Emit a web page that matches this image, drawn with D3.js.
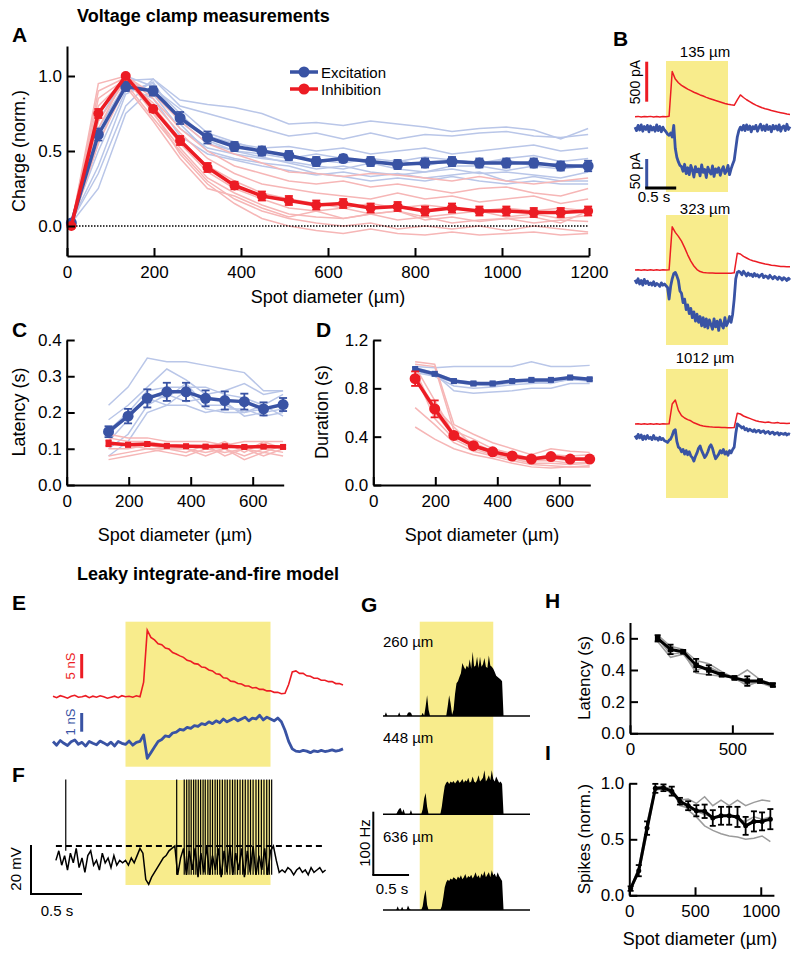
<!DOCTYPE html>
<html><head><meta charset="utf-8">
<script src="https://cdn.jsdelivr.net/npm/d3@7"></script>
<style>body{margin:0;background:#fff}svg{display:block}</style>
</head><body>
<svg id="fig" width="800" height="954"></svg>
<script>
// ===================== DATA =====================
// Panel A: charge vs spot diameter
const diamA = [10,72,135,198,260,323,385,448,510,573,635,698,760,823,885,948,1010,1073,1135,1198];
const excA    = [0.02,0.61,0.93,0.90,0.72,0.59,0.53,0.50,0.47,0.43,0.45,0.43,0.41,0.42,0.43,0.42,0.42,0.42,0.40,0.40];
const excAErr = [0.02,0.04,0.03,0.03,0.04,0.04,0.03,0.03,0.03,0.03,0.025,0.03,0.03,0.03,0.03,0.03,0.03,0.03,0.03,0.035];
const inhA    = [0.00,0.75,1.00,0.78,0.57,0.39,0.27,0.20,0.17,0.14,0.15,0.12,0.13,0.10,0.12,0.10,0.10,0.09,0.09,0.10];
const inhAErr = [0.01,0.03,0.01,0.02,0.03,0.03,0.025,0.03,0.03,0.03,0.03,0.03,0.03,0.03,0.03,0.03,0.03,0.03,0.03,0.03];
const excACells = [
 [0.03,0.35,0.80,0.98,0.84,0.81,0.79,0.75,0.68,0.69,0.67,0.70,0.68,0.66,0.63,0.65,0.66,0.64,0.58,0.65],
 [0.02,0.55,0.97,0.98,0.80,0.75,0.70,0.65,0.60,0.62,0.58,0.62,0.58,0.61,0.60,0.62,0.63,0.60,0.59,0.61],
 [0.01,0.65,0.95,0.90,0.72,0.60,0.55,0.52,0.53,0.50,0.52,0.48,0.50,0.52,0.48,0.50,0.52,0.54,0.50,0.52],
 [0.03,0.70,1.00,0.93,0.75,0.57,0.50,0.48,0.45,0.48,0.45,0.42,0.44,0.40,0.44,0.42,0.45,0.47,0.43,0.45],
 [0.02,0.75,0.98,0.88,0.65,0.52,0.48,0.45,0.43,0.40,0.38,0.42,0.38,0.36,0.40,0.40,0.37,0.40,0.38,0.40],
 [0.03,0.50,0.90,0.95,0.70,0.55,0.50,0.46,0.42,0.38,0.40,0.36,0.34,0.36,0.38,0.35,0.36,0.34,0.32,0.36],
 [0.02,0.60,0.93,0.85,0.60,0.48,0.44,0.40,0.37,0.34,0.36,0.33,0.35,0.32,0.34,0.36,0.30,0.33,0.30,0.30],
 [0.03,0.40,0.88,0.96,0.68,0.50,0.45,0.42,0.40,0.35,0.33,0.30,0.32,0.30,0.33,0.30,0.28,0.30,0.28,0.28],
 [0.02,0.25,0.75,0.92,0.78,0.62,0.56,0.50,0.46,0.44,0.42,0.45,0.43,0.46,0.44,0.42,0.44,0.40,0.42,0.38]
];
const inhACells = [
 [0.0,0.95,1.00,0.88,0.70,0.55,0.48,0.42,0.36,0.35,0.33,0.35,0.34,0.32,0.30,0.33,0.30,0.28,0.30,0.32],
 [0.0,0.90,0.99,0.85,0.65,0.50,0.40,0.35,0.30,0.28,0.30,0.26,0.28,0.25,0.22,0.25,0.26,0.22,0.20,0.25],
 [0.0,0.80,0.98,0.82,0.62,0.45,0.35,0.28,0.25,0.22,0.20,0.18,0.22,0.18,0.20,0.16,0.18,0.20,0.15,0.18],
 [0.0,0.75,1.00,0.80,0.58,0.40,0.30,0.22,0.18,0.15,0.12,0.15,0.12,0.14,0.12,0.10,0.12,0.10,0.12,0.10],
 [0.0,0.70,0.97,0.78,0.55,0.36,0.25,0.18,0.12,0.10,0.12,0.08,0.10,0.06,0.08,0.10,0.06,0.08,0.05,0.07],
 [0.0,0.65,1.00,0.75,0.52,0.32,0.22,0.14,0.08,0.06,0.05,0.08,0.04,0.06,0.02,0.04,0.05,0.02,0.04,0.03],
 [0.0,0.60,0.95,0.72,0.50,0.30,0.18,0.10,0.05,0.02,0.00,0.02,-0.02,0.00,-0.02,0.00,-0.03,0.00,-0.02,-0.04],
 [0.0,0.85,0.98,0.76,0.48,0.28,0.15,0.05,0.00,-0.03,-0.05,-0.02,-0.05,-0.06,-0.04,-0.06,-0.05,-0.04,-0.06,-0.05],
 [0.0,0.55,0.93,0.70,0.45,0.25,0.20,0.12,0.06,0.10,0.05,0.08,0.10,0.04,0.06,0.03,0.05,0.06,0.02,0.10]
];
const ticksA_x = [0,200,400,600,800,1000,1200];
const ticksA_y = [0,0.5,1.0];

// Panels C, D: latency and duration
const diamCD = [135,198,260,323,385,448,510,573,635,698];
const excLat    = [0.147,0.19,0.239,0.257,0.257,0.239,0.233,0.23,0.21,0.222];
const excLatErr = [0.015,0.02,0.025,0.025,0.025,0.022,0.025,0.022,0.018,0.018];
const inhLat    = [0.115,0.111,0.113,0.108,0.107,0.106,0.107,0.105,0.106,0.105];
const inhLatErr = [0.008,0.005,0.005,0.004,0.004,0.004,0.004,0.004,0.004,0.004];
const excLatCells = [
 [0.22,0.27,0.35,0.34,0.34,0.33,0.32,0.31,0.26,0.26],
 [0.18,0.22,0.27,0.32,0.29,0.25,0.26,0.28,0.25,0.26],
 [0.15,0.20,0.26,0.27,0.27,0.27,0.25,0.24,0.22,0.25],
 [0.12,0.18,0.25,0.24,0.28,0.22,0.22,0.20,0.21,0.22],
 [0.10,0.14,0.22,0.25,0.23,0.24,0.23,0.19,0.20,0.21],
 [0.08,0.12,0.20,0.22,0.22,0.20,0.21,0.21,0.19,0.20],
 [0.14,0.19,0.24,0.22,0.26,0.21,0.20,0.20,0.22,0.19]
];
const inhLatCells = [
 [0.14,0.13,0.13,0.12,0.12,0.12,0.11,0.12,0.12,0.12],
 [0.13,0.12,0.12,0.11,0.11,0.10,0.12,0.09,0.12,0.10],
 [0.12,0.11,0.10,0.10,0.09,0.11,0.08,0.10,0.09,0.11],
 [0.10,0.10,0.11,0.10,0.10,0.09,0.10,0.08,0.10,0.09],
 [0.08,0.09,0.10,0.09,0.08,0.10,0.09,0.10,0.08,0.10],
 [0.07,0.08,0.09,0.10,0.10,0.08,0.10,0.07,0.09,0.08]
];
const excDur    = [0.96,0.92,0.86,0.84,0.84,0.86,0.87,0.87,0.89,0.875];
const excDurErr = [0.012,0.012,0.015,0.015,0.015,0.012,0.012,0.012,0.01,0.01];
const inhDur    = [0.88,0.63,0.41,0.325,0.275,0.24,0.215,0.235,0.215,0.215];
const inhDurErr = [0.06,0.07,0.02,0.02,0.02,0.015,0.015,0.015,0.015,0.015];
const excDurCells = [
 [0.98,0.97,0.98,0.98,0.98,0.98,1.02,0.98,0.98,0.99],
 [0.96,0.92,0.78,0.76,0.77,0.78,0.80,0.80,0.84,0.84],
 [0.95,0.90,0.85,0.83,0.82,0.85,0.86,0.86,0.88,0.87],
 [0.93,0.90,0.82,0.80,0.81,0.83,0.84,0.85,0.87,0.86],
 [0.97,0.93,0.87,0.85,0.84,0.86,0.85,0.84,0.88,0.86]
];
const inhDurCells = [
 [1.02,1.00,0.50,0.42,0.35,0.30,0.25,0.30,0.28,0.27],
 [1.00,0.98,0.45,0.38,0.30,0.26,0.22,0.25,0.24,0.25],
 [0.98,0.70,0.42,0.35,0.28,0.24,0.20,0.22,0.20,0.22],
 [0.95,0.60,0.40,0.32,0.26,0.22,0.20,0.20,0.18,0.19],
 [0.92,0.55,0.38,0.30,0.25,0.22,0.18,0.18,0.17,0.18],
 [0.64,0.50,0.35,0.28,0.24,0.20,0.17,0.16,0.15,0.16],
 [0.48,0.38,0.30,0.25,0.22,0.18,0.15,0.14,0.15,0.15],
 [0.90,0.65,0.48,0.32,0.27,0.24,0.20,0.22,0.21,0.20]
];
const ticksCD_x = [0,200,400,600];
const ticksC_y = [0,0.1,0.2,0.3,0.4];
const ticksD_y = [0,0.4,0.8,1.2];

// Panel H: model latency
const modelLat    = [0.60,0.53,0.515,0.43,0.40,0.37,0.35,0.33,0.33,0.305];
const modelLatErr = [0.02,0.03,0.01,0.04,0.03,0.01,0.01,0.03,0.01,0.01];
const modelLatCells = [
 [0.62,0.55,0.53,0.46,0.44,0.39,0.35,0.40,0.34,0.31],
 [0.60,0.50,0.51,0.38,0.37,0.36,0.35,0.30,0.33,0.30],
 [0.58,0.48,0.50,0.40,0.42,0.38,0.34,0.32,0.32,0.29]
];
const ticksH_x = [0,500];
const ticksH_y = [0,0.2,0.4,0.6];

// Panel I: model spikes
const diamI = [10,72,135,198,260,323,385,448,510,573,635,698,760,823,885,948,1010,1073];
const modelSpk    = [0.06,0.22,0.60,0.955,0.96,0.93,0.84,0.80,0.755,0.75,0.69,0.71,0.71,0.70,0.62,0.66,0.66,0.68];
const modelSpkErr = [0.02,0.05,0.06,0.04,0.03,0.04,0.03,0.04,0.05,0.06,0.07,0.08,0.08,0.09,0.08,0.09,0.08,0.09];
const modelSpkCells = [
 [0.05,0.20,0.55,0.95,0.97,0.90,0.85,0.86,0.82,0.88,0.80,0.85,0.80,0.85,0.80,0.83,0.85,0.84],
 [0.06,0.25,0.65,0.96,0.97,0.95,0.80,0.78,0.75,0.72,0.70,0.70,0.72,0.68,0.66,0.70,0.68,0.70],
 [0.07,0.22,0.60,0.94,0.95,0.92,0.85,0.76,0.70,0.62,0.58,0.55,0.53,0.52,0.50,0.51,0.53,0.48]
];
const ticksI_x = [0,500,1000];
const ticksI_y = [0,0.5,1.0];

// Panel B: current traces (pA). Inhibitory: dt 0.05 s; excitatory: dt 0.025 s; 0..2.5 s, light 0.5-1.5 s
const bLabels = ["135 µm","323 µm","1012 µm"];
const bInh = [
 [0,4,-3,3,-2,4,-4,2,-3,3,0,5,565,470,425,392,368,345,325,306,290,272,258,242,228,215,202,190,178,166,155,148,142,210,272,240,212,188,165,145,128,112,100,90,78,68,58,50,42,34,28],
 [0,3,-2,4,-3,2,-4,3,-2,4,-1,2,540,470,420,360,280,190,110,50,5,-20,-30,-35,-38,-38,-40,-40,-40,-40,-40,-40,-35,210,200,170,150,130,115,105,95,85,75,70,60,55,50,45,45,40,40],
 [0,3,-2,4,-3,2,-3,4,-2,3,-1,2,250,300,170,105,75,55,40,15,0,-15,-25,-30,-35,-38,-40,-42,-45,-45,-48,-48,-45,135,125,100,85,70,55,40,30,25,20,25,15,12,18,8,10,5,8]
];
const bExc = [
 [2,-4,5,-3,6,-5,3,-2,5,-6,4,-3,2,-5,6,-4,3,-6,2,-3,-6,-10,-12,-8,
  -15,5,-35,-50,-58,-64,
  -66,-74,-62,-78,-68,-80,-64,-72,-84,-66,-75,-70,-82,-63,-76,-71,-85,-67,-74,-79,-65,-83,-70,-76,-68,-81,-72,-66,-78,-74,-64,-80,-70,-62,
  -55,-35,-15,-4,
  2,-3,5,-4,6,-2,4,-6,3,-1,5,-5,2,7,-3,4,-4,6,-2,3,-6,5,-1,4,-3,6,-5,2,4,-4,7,-2,3],
 [3,-2,5,-4,2,-6,4,-3,1,-5,-2,-6,0,-7,-3,-5,-8,-2,-6,-4,
  -7,-10,-30,-8,
  5,14,16,10,
  2,-16,-20,-36,-30,-48,-40,-55,-46,-62,-52,-68,-56,-70,-60,-76,-62,-78,-64,-80,-66,-74,-82,-64,-78,-68,-84,-66,-75,-80,-62,-76,-70,-60,-70,-56,
  -30,5,16,18,
  16,12,18,14,10,15,11,13,9,14,10,12,8,11,13,7,10,9,6,11,8,5,9,7,4,8,6,3,7,5,2,6,3],
 [2,-3,4,-2,3,-5,1,-4,2,-3,-1,-5,2,-4,-2,-6,-1,-5,-3,-7,
  -8,-10,-6,-4,2,10,12,-8,
  -18,-20,-26,-22,-30,-24,-31,-26,-33,-36,-42,-34,
  -28,-20,-16,-24,-30,-36,-32,-26,-18,-14,-20,-30,
  -38,-34,-30,-24,-28,-22,-30,-26,-32,-24,-28,-22,
  -18,5,22,20,
  18,15,17,12,14,10,13,11,9,12,8,10,11,7,9,10,6,8,9,5,7,8,4,6,7,3,6,5,4,6,3,5,4]
];

// Panel E: model conductances (nS), dt 0.025 s, 0..2 s
const eInh = [0.1,-0.2,0.2,0.0,-0.3,0.1,0.3,-0.1,0.0,0.2,-0.2,0.1,-0.1,0.2,0.0,-0.3,-0.1,0.1,-0.2,0.2,0.0,0.1,-0.1,0.2,0.0,
 3.0,13.7,12.2,11.7,10.9,10.7,10.0,9.8,9.1,8.8,8.4,8.1,7.5,7.3,6.8,6.7,6.1,6.0,5.5,5.3,4.7,4.6,3.9,3.8,3.2,3.1,2.7,2.6,2.2,2.2,1.8,1.9,1.5,1.5,1.2,1.2,0.9,0.9,0.6,0.7,2.5,5.1,5.3,4.8,4.8,4.3,4.2,3.8,3.8,3.4,3.4,3.1,3.1,2.7,2.7,2.4];
const eExc = [0.1,-0.1,0.15,0.0,-0.12,0.08,0.18,-0.05,0.05,-0.15,0.1,0.0,-0.08,0.12,0.02,-0.1,0.06,-0.14,0.1,0.0,-0.06,0.12,-0.1,0.05,
 0.1,0.45,-0.8,-0.5,-0.2,0.1,0.2,0.4,0.35,0.55,0.6,0.75,0.7,0.85,0.8,0.95,0.9,1.05,1.0,1.15,1.05,1.2,1.1,1.3,1.15,1.25,1.35,1.2,1.3,1.4,1.2,1.35,1.3,1.5,1.25,1.4,1.3,1.2,1.35,1.15,0.7,0.1,-0.3,-0.42,-0.45,-0.38,-0.42,-0.5,-0.4,-0.45,-0.38,-0.44,-0.4,-0.35,-0.42,-0.38,-0.3];

// Panel F: membrane potential (mV), t = 0.02 + i*0.02 s; spike times (s)
const fVm = [-56,-52,-58,-54,-60,-53,-57,-51,-59,-55,-61,-54,-52,-58,-56,-60,-53,-57,-55,-59,-54,-58,-56,-57,
 -56,-58,-55,-57,-54,-51,-53,-64,-66,-63,-61,-59,-57,-55,-54,-52,-51,-50,-62,-55,-51,
 -62,-52,-60,-51,-63,-53,-61,-50,-62,-54,-60,-51,-63,-52,-61,-50,-62,-53,-60,-51,-63,-52,-61,-50,-62,-54,-60,-51,-62,-52,
 -50,-56,-61,-60,-61,-59,-60,-62,-60,-59,-61,-60,-62,-59,-61,-60,-59,-61,-60];
const fSpikes = [0.088,0.853,0.905,0.922,0.938,0.953,0.970,0.985,1.002,1.018,1.035,1.050,1.068,1.084,1.100,1.118,1.134,1.150,1.168,1.186,1.202,1.220,1.238,1.255,1.272,1.290,1.308,1.326,1.345,1.362,1.380,1.400,1.418,1.437,1.455,1.474,1.492,1.508];
const fThreshold = -50, fReset = -62, fSpikePeak = -22.3;

// Panel G: firing rates (Hz), dt 0.02 s, 0..2 s
const gLabels = ["260 µm","448 µm","636 µm"];
const gRates = [
 [0,0,6,0,0,0,0,0,0,0,0,6,0,0,0,0,0,5,6,5,0,0,0,0,0,0,0,5,0,15,33,10,0,0,0,0,0,0,0,0,0,0,0,0,15,33,20,2,10,
  35,52,55,62,68,84,78,74,80,76,90,75,102,78,80,94,76,94,78,82,92,78,76,96,80,78,75,70,64,62,60,58,55,
  0,0,0,0,0,0,0,0,0,0,0,0,0,0,0,0,0,0,0],
 [0,0,0,0,0,0,0,0,0,0,5,9,10,3,8,0,0,0,0,7,0,0,0,0,0,0,0,8,25,34,12,0,0,0,0,0,0,0,0,0,
  12,30,45,50,52,48,52,50,53,49,52,55,50,52,56,50,54,52,58,50,52,60,52,50,54,62,52,55,58,70,52,56,62,54,70,56,52,60,55,50,52,48,
  0,0,0,0,0,0,0,0,0,0,0,0,0,0,0,0,0,0,0],
 [0,0,0,0,0,0,0,0,0,0,6,0,0,5,0,0,0,7,2,0,0,0,0,0,0,0,0,6,22,32,8,0,0,0,0,0,0,0,0,0,
  6,20,36,44,48,46,50,48,52,50,48,53,50,55,49,52,57,50,54,52,56,50,54,60,52,55,50,58,54,62,52,56,60,52,63,55,58,52,60,54,50,46,
  0,0,0,0,0,0,0,0,0,0,0,0,0,0,0,0,0,0,0]
];

// ===================== DRAWING =====================
const svg = d3.select("#fig");
const FONT = '"Liberation Sans", Arial, Helvetica, sans-serif';
const BLUE="#3953a4", RED="#ec1c24", LBLUE="#b9c6e8", LRED="#f6b6b6", YEL="#f8ec8c", GRAY="#9b9b9b";

function txt(x,y,s,o={}){
  const t=svg.append("text").attr("x",x).attr("y",y).text(s)
    .attr("font-family",FONT).attr("font-size",o.size||17)
    .attr("font-weight",o.bold?"bold":"normal").attr("fill",o.fill||"#000")
    .attr("text-anchor",o.anchor||"start");
  if(o.rot) t.attr("transform",`rotate(${o.rot},${x},${y})`);
  return t;
}
function axes(xs,ys,xT,yT,yFmt){
  const gx=svg.append("g").attr("transform",`translate(0,${ys.range()[0]})`)
    .call(d3.axisBottom(xs).tickValues(xT).tickFormat(d3.format("d")).tickSizeInner(-8).tickSizeOuter(0).tickPadding(10));
  const gy=svg.append("g").attr("transform",`translate(${xs.range()[0]},0)`)
    .call(d3.axisLeft(ys).tickValues(yT).tickFormat(d3.format(yFmt)).tickSizeInner(-8).tickSizeOuter(0).tickPadding(5));
  [gx,gy].forEach(g=>{
    g.attr("font-family",FONT);
    g.select(".domain").attr("stroke","#000").attr("stroke-width",2);
    g.selectAll(".tick line").attr("stroke","#000").attr("stroke-width",2);
    g.selectAll("text").attr("font-family",FONT).attr("font-size",17).attr("fill","#000");
  });
}
function cells(xs,ys,xv,arr,color,w){
  const line=d3.line().x((d,i)=>xs(xv[i])).y(d=>ys(d));
  arr.forEach(c=>svg.append("path").attr("d",line(c)).attr("fill","none").attr("stroke",color).attr("stroke-width",w||1.5));
}
function series(xs,ys,xv,yv,ev,color,marker,lw,ms,cap){
  const line=d3.line().x((d,i)=>xs(xv[i])).y(d=>ys(d));
  svg.append("path").attr("d",line(yv)).attr("fill","none").attr("stroke",color).attr("stroke-width",lw).attr("stroke-linejoin","round");
  const g=svg.append("g").attr("stroke",color).attr("stroke-width",1.8);
  yv.forEach((v,i)=>{
    const x=xs(xv[i]), y1=ys(v-ev[i]), y2=ys(v+ev[i]);
    g.append("line").attr("x1",x).attr("x2",x).attr("y1",y1).attr("y2",y2);
    g.append("line").attr("x1",x-cap).attr("x2",x+cap).attr("y1",y1).attr("y2",y1);
    g.append("line").attr("x1",x-cap).attr("x2",x+cap).attr("y1",y2).attr("y2",y2);
  });
  yv.forEach((v,i)=>{
    const x=xs(xv[i]), y=ys(v);
    if(marker==="circle") svg.append("circle").attr("cx",x).attr("cy",y).attr("r",ms).attr("fill",color);
    else svg.append("rect").attr("x",x-ms/2).attr("y",y-ms/2).attr("width",ms).attr("height",ms).attr("fill",color);
  });
}

// Titles
txt(77,22,"Voltage clamp measurements",{size:18,bold:true});
txt(77,580,"Leaky integrate-and-fire model",{size:18,bold:true});
// Panel letters
[["A",12,42],["B",613,46],["C",12,337],["D",316,337],["E",12,610],["F",12,782],["G",361,612],["H",545,608],["I",545,760]]
  .forEach(([l,x,y])=>txt(x,y,l,{size:21,bold:true}));

// ---------- Panel A ----------
const xA=d3.scaleLinear([0,1200],[67,589]), yA=d3.scaleLinear([-0.2,1.2],[256,46]);
cells(xA,yA,diamA,excACells,LBLUE,1.5);
cells(xA,yA,diamA,inhACells,LRED,1.5);
svg.append("line").attr("x1",xA(0)).attr("x2",xA(1200)).attr("y1",yA(0)).attr("y2",yA(0))
  .attr("stroke","#000").attr("stroke-width",1.3).attr("stroke-dasharray","1.5,1.5");
series(xA,yA,diamA,excA,excAErr,BLUE,"circle",3.5,5.5,4);
series(xA,yA,diamA,inhA,inhAErr,RED,"circle",3.5,5,4);
axes(xA,yA,ticksA_x,ticksA_y,".1f");
txt(328,303,"Spot diameter (µm)",{size:18,anchor:"middle"});
txt(25,151,"Charge (norm.)",{size:18,anchor:"middle",rot:-90});
// legend
[["Excitation",BLUE,72],["Inhibition",RED,89]].forEach(([s,c,y])=>{
  svg.append("line").attr("x1",290).attr("x2",318).attr("y1",y).attr("y2",y).attr("stroke",c).attr("stroke-width",3.5);
  svg.append("circle").attr("cx",304).attr("cy",y).attr("r",5.5).attr("fill",c);
  txt(321,y+5.5,s,{size:15});
});

// ---------- Panel C ----------
const xC=d3.scaleLinear([0,700],[66.7,283.7]), yC=d3.scaleLinear([0,0.4],[485,340]);
cells(xC,yC,diamCD,excLatCells,LBLUE,1.5);
cells(xC,yC,diamCD,inhLatCells,LRED,1.5);
series(xC,yC,diamCD,excLat,excLatErr,BLUE,"circle",3.5,5.5,4);
series(xC,yC,diamCD,inhLat,inhLatErr,RED,"square",3.5,6,3);
axes(xC,yC,ticksCD_x,ticksC_y,".1f");
txt(175,541,"Spot diameter (µm)",{size:18,anchor:"middle"});
txt(25,412,"Latency (s)",{size:18,anchor:"middle",rot:-90});

// ---------- Panel D ----------
const xD=d3.scaleLinear([0,700],[373.3,590.3]), yD=d3.scaleLinear([0,1.2],[485,340]);
cells(xD,yD,diamCD,excDurCells,LBLUE,1.5);
cells(xD,yD,diamCD,inhDurCells,LRED,1.5);
series(xD,yD,diamCD,excDur,excDurErr,BLUE,"square",3.5,6,3);
series(xD,yD,diamCD,inhDur,inhDurErr,RED,"circle",3.5,5.5,4);
axes(xD,yD,ticksCD_x,ticksD_y,".1f");
txt(482,541,"Spot diameter (µm)",{size:18,anchor:"middle"});
txt(328,412,"Duration (s)",{size:18,anchor:"middle",rot:-90});

// ---------- Panel B ----------
const xB=d3.scaleLinear([0,2.5],[635,790]);
const bRedBase=[116.7,270,424], bBlueBase=[128.3,281.7,436.7];
const bYelTop=[61,215,369], bYelBot=[192,345,498], bLabY=[57,214,363];
for(let k=0;k<3;k++){
  svg.append("rect").attr("x",xB(0.5)).attr("y",bYelTop[k]).attr("width",xB(1.5)-xB(0.5))
    .attr("height",bYelBot[k]-bYelTop[k]).attr("fill",YEL);
  txt(705,bLabY[k],bLabels[k],{size:15,anchor:"middle"});
  const yR=d3.scaleLinear([0,500],[bRedBase[k],bRedBase[k]-40]);
  const yBl=d3.scaleLinear([0,50],[bBlueBase[k],bBlueBase[k]-29]);
  svg.append("path").attr("d",d3.line().x((d,i)=>xB(i*0.025)).y(d=>yBl(d))(bExc[k]))
    .attr("fill","none").attr("stroke",BLUE).attr("stroke-width",2.8).attr("stroke-linejoin","round");
  svg.append("path").attr("d",d3.line().x((d,i)=>xB(i*0.05)).y(d=>yR(d))(bInh[k]))
    .attr("fill","none").attr("stroke",RED).attr("stroke-width",1.5).attr("stroke-linejoin","round");
}
// B scale bars
svg.append("line").attr("x1",646.7).attr("x2",646.7).attr("y1",61.7).attr("y2",101.7).attr("stroke",RED).attr("stroke-width",3);
svg.append("line").attr("x1",646.7).attr("x2",646.7).attr("y1",159).attr("y2",188).attr("stroke",BLUE).attr("stroke-width",3);
svg.append("line").attr("x1",645.2).attr("x2",645.2+xB(0.5)-xB(0)).attr("y1",188).attr("y2",188).attr("stroke","#000").attr("stroke-width",3);
txt(640,82,"500 pA",{size:14,anchor:"middle",rot:-90});
txt(640,171,"50 pA",{size:14,anchor:"middle",rot:-90});
txt(654,202,"0.5 s",{size:15,anchor:"middle"});

// ---------- Panel E ----------
const xE=d3.scaleLinear([0,2],[53,343]);
svg.append("rect").attr("x",xE(0.5)).attr("y",621.7).attr("width",xE(1.5)-xE(0.5)).attr("height",145).attr("fill",YEL);
const yEi=d3.scaleLinear([0,5],[696.7,672.4]), yEe=d3.scaleLinear([0,1],[743.3,724.6]);
svg.append("path").attr("d",d3.line().x((d,i)=>xE(i*0.025)).y(d=>yEi(d))(eInh))
  .attr("fill","none").attr("stroke",RED).attr("stroke-width",1.6);
svg.append("path").attr("d",d3.line().x((d,i)=>xE(i*0.025)).y(d=>yEe(d))(eExc))
  .attr("fill","none").attr("stroke",BLUE).attr("stroke-width",2.8).attr("stroke-linejoin","round");
svg.append("line").attr("x1",81.7).attr("x2",81.7).attr("y1",654).attr("y2",654+yEi(0)-yEi(5)).attr("stroke",RED).attr("stroke-width",3);
svg.append("line").attr("x1",81.7).attr("x2",81.7).attr("y1",713).attr("y2",713+yEe(0)-yEe(1)).attr("stroke",BLUE).attr("stroke-width",3);
txt(75,666,"5 nS",{size:13,anchor:"middle",rot:-90,fill:RED});
txt(75,722,"1 nS",{size:13,anchor:"middle",rot:-90,fill:BLUE});

// ---------- Panel F ----------
const yF=d3.scaleLinear([-70,-50],[894,846]);
svg.append("rect").attr("x",xE(0.5)).attr("y",780).attr("width",xE(1.5)-xE(0.5)).attr("height",105).attr("fill",YEL);
svg.append("path").attr("d",d3.line().x((d,i)=>xE(0.02+i*0.02)).y(d=>yF(d))(fVm))
  .attr("fill","none").attr("stroke","#000").attr("stroke-width",1.5);
fSpikes.forEach((t,i)=>{
  const lo = i===0 ? -52 : fReset;
  svg.append("line").attr("x1",xE(t)).attr("x2",xE(t)).attr("y1",yF(lo)).attr("y2",yF(fSpikePeak))
    .attr("stroke","#000").attr("stroke-width",1.2);
});
svg.append("line").attr("x1",xE(0.02)).attr("x2",xE(1.88)).attr("y1",yF(fThreshold)).attr("y2",yF(fThreshold))
  .attr("stroke","#000").attr("stroke-width",2.2).attr("stroke-dasharray","6,4");
svg.append("line").attr("x1",31).attr("x2",31).attr("y1",yF(-50)-1).attr("y2",yF(-70)).attr("stroke","#000").attr("stroke-width",2);
svg.append("line").attr("x1",30).attr("x2",82).attr("y1",yF(-70)).attr("y2",yF(-70)).attr("stroke","#000").attr("stroke-width",2);
txt(21,869,"20 mV",{size:15,anchor:"middle",rot:-90});
txt(57,916,"0.5 s",{size:15,anchor:"middle"});

// ---------- Panel G ----------
const xG=d3.scaleLinear([0,2],[383,530]);
const gBase=[716,814.3,910], gLabY=[647,743,842];
svg.append("rect").attr("x",xG(0.5)).attr("y",621.7).attr("width",xG(1.5)-xG(0.5)).attr("height",gBase[2]-621.7).attr("fill",YEL);
for(let k=0;k<3;k++){
  const yG=d3.scaleLinear([0,100],[gBase[k],gBase[k]-63]);
  svg.append("path").attr("d",d3.area().x((d,i)=>xG(i*0.02)).y0(yG(0)).y1(d=>yG(d))(gRates[k])).attr("fill","#000");
  svg.append("line").attr("x1",xG(0)).attr("x2",xG(2)).attr("y1",yG(0)).attr("y2",yG(0)).attr("stroke","#000").attr("stroke-width",1.5);
  txt(383,gLabY[k],gLabels[k],{size:15});
}
svg.append("line").attr("x1",373.3).attr("x2",373.3).attr("y1",811.7).attr("y2",875).attr("stroke","#000").attr("stroke-width",2);
svg.append("line").attr("x1",372.3).attr("x2",372.3+xG(0.5)-xG(0)).attr("y1",875).attr("y2",875).attr("stroke","#000").attr("stroke-width",2);
txt(370,843,"100 Hz",{size:15,anchor:"middle",rot:-90});
txt(392,894,"0.5 s",{size:15,anchor:"middle"});

// ---------- Panel H ----------
const xH=d3.scaleLinear([0,700],[630,773.3]), yH=d3.scaleLinear([0,0.7],[733.3,622.5]);
cells(xH,yH,diamCD,modelLatCells,GRAY,1.5);
series(xH,yH,diamCD,modelLat,modelLatErr,"#000","square",3,5.5,3);
axes(xH,yH,ticksH_x,ticksH_y,".1f");
txt(590,678,"Latency (s)",{size:17,anchor:"middle",rot:-90});

// ---------- Panel I ----------
const xI=d3.scaleLinear([0,1100],[629.3,773.9]), yI=d3.scaleLinear([0,1],[895.3,783.3]);
cells(xI,yI,diamI,modelSpkCells,GRAY,1.5);
series(xI,yI,diamI,modelSpk,modelSpkErr,"#000","circle",3,2.5,3);
axes(xI,yI,ticksI_x,ticksI_y,".1f");
txt(590,839,"Spikes (norm.)",{size:17,anchor:"middle",rot:-90});
txt(700,945,"Spot diameter (µm)",{size:18,anchor:"middle"});
</script>
</body></html>
